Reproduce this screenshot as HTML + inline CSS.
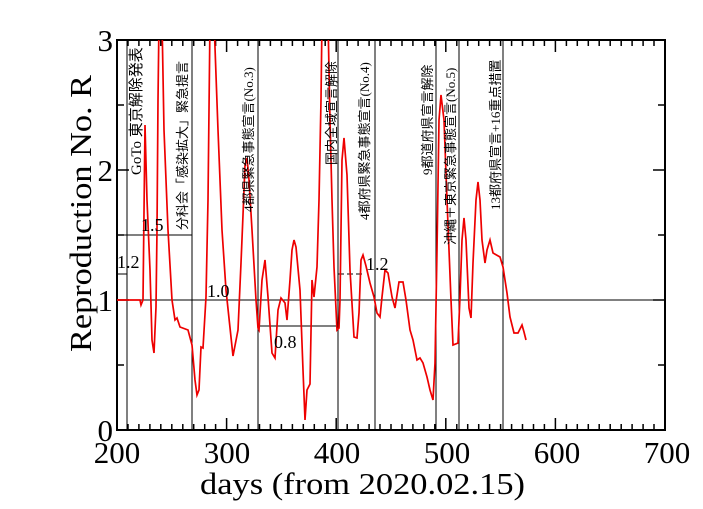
<!DOCTYPE html>
<html><head><meta charset="utf-8"><style>
html,body{margin:0;padding:0;background:#fff;}
svg{display:block;}
.t{font-family:"Liberation Serif","Noto Serif CJK SC",serif;}
.j{font-family:"Liberation Serif","Noto Sans CJK JP",sans-serif;font-size:13px;}
</style></head><body>
<svg width="703" height="509" viewBox="0 0 703 509" xmlns="http://www.w3.org/2000/svg">
<rect width="703" height="509" fill="#fff"/>
<defs><clipPath id="c"><rect x="117" y="40" width="548" height="390"/></clipPath></defs>
<g stroke="#000" stroke-width="1" fill="none">
<line x1="117" y1="300" x2="665" y2="300"/>
<line x1="117" y1="235" x2="192" y2="235"/>
<line x1="117" y1="274" x2="127" y2="274"/>
<line x1="258" y1="326" x2="338" y2="326"/>
<line x1="338" y1="274" x2="363" y2="274" stroke-dasharray="6,3"/>
<line x1="127" y1="40" x2="127" y2="430"/>
<line x1="192" y1="40" x2="192" y2="430"/>
<line x1="258" y1="40" x2="258" y2="430"/>
<line x1="338" y1="40" x2="338" y2="430"/>
<line x1="375" y1="40" x2="375" y2="430"/>
<line x1="436" y1="40" x2="436" y2="430"/>
<line x1="459" y1="40" x2="459" y2="430"/>
<line x1="503" y1="40" x2="503" y2="430"/>
</g>
<path stroke="#000" stroke-width="1.5" fill="none" d="
M128 430v-6M128 40v6M138.9 430v-6M138.9 40v6M149.9 430v-6M149.9 40v6M160.8 430v-6M160.8 40v6M171.8 430v-6M171.8 40v6M182.8 430v-6M182.8 40v6M193.7 430v-6M193.7 40v6M204.7 430v-6M204.7 40v6M215.6 430v-6M215.6 40v6
M226.6 430v-12M226.6 40v12
M237.6 430v-6M237.6 40v6M248.5 430v-6M248.5 40v6M259.5 430v-6M259.5 40v6M270.4 430v-6M270.4 40v6M281.4 430v-6M281.4 40v6M292.4 430v-6M292.4 40v6M303.3 430v-6M303.3 40v6M314.3 430v-6M314.3 40v6M325.2 430v-6M325.2 40v6
M336.2 430v-12M336.2 40v12
M347.2 430v-6M347.2 40v6M358.1 430v-6M358.1 40v6M369.1 430v-6M369.1 40v6M380 430v-6M380 40v6M391 430v-6M391 40v6M402 430v-6M402 40v6M412.9 430v-6M412.9 40v6M423.9 430v-6M423.9 40v6M434.8 430v-6M434.8 40v6
M445.8 430v-12M445.8 40v12
M456.8 430v-6M456.8 40v6M467.7 430v-6M467.7 40v6M478.7 430v-6M478.7 40v6M489.6 430v-6M489.6 40v6M500.6 430v-6M500.6 40v6M511.6 430v-6M511.6 40v6M522.5 430v-6M522.5 40v6M533.5 430v-6M533.5 40v6M544.4 430v-6M544.4 40v6
M555.4 430v-12M555.4 40v12
M566.4 430v-6M566.4 40v6M577.3 430v-6M577.3 40v6M588.3 430v-6M588.3 40v6M599.2 430v-6M599.2 40v6M610.2 430v-6M610.2 40v6M621.2 430v-6M621.2 40v6M632.1 430v-6M632.1 40v6M643.1 430v-6M643.1 40v6M654 430v-6M654 40v6
M117 365h7M665 365h-7M117 300h12M665 300h-12M117 235h7M665 235h-7M117 170h12M665 170h-12M117 105h7M665 105h-7"/>
<rect x="117" y="40" width="548" height="390" fill="none" stroke="#000" stroke-width="2"/>
<polyline clip-path="url(#c)" fill="none" stroke="#e00" stroke-width="1.7" points="117,300 140,300 141,305 143,300 145,125 147,200 150,270 152,340 154,353 156,307 157,230 158,100 159,20 162,20 164,130 168,230 172,300 175,320 177,318 180,327 188,330 192,345 195,380 197,395 199,390 201,347 203,348 206,297 208,200 210,20 214,20 218,130 222,230 226,290 233,356 238,330 241,263 243,215 245,165 247,158 249,180 252,230 256,300 258,328 259,330 262,280 265,260 268,297 272,353 275,358 278,310 281,298 285,303 287,320 290,280 292,250 294,240 296,247 300,290 303,370 305,420 307,390 310,384 312,280 314,297 317,267 319,200 321,100 322,20 328,20 330,120 332,200 334,267 337,330 339,328 340,300 342,160 344,138 347,175 350,270 354,337 357,338 359,313 361,260 363,255 366,266 370,283 374,297 377,313 380,317 382,297 385,270 388,273 392,297 395,308 399,282 403,282 406,300 410,330 413,340 417,360 420,358 423,363 427,377 430,390 433,400 435,363 437,250 439,120 441,95 444,120 447,200 451,300 453,345 458,343 460,297 462,240 464,218 466,240 469,308 471,318 473,263 476,200 478,182 480,200 482,240 485,263 487,250 490,240 493,253 500,257 503,267 507,293 510,317 514,333 518,333 522,325 524,332 526,340"/>
<g class="t" font-size="18" fill="#000">
<text x="141" y="231">1.5</text>
<text x="117" y="268">1.2</text>
<text x="207" y="297">1.0</text>
<text x="274" y="348">0.8</text>
<text x="366" y="270">1.2</text>
</g>
<g class="j" fill="#000">
<text transform="translate(141,175) rotate(-90)" font-size="15">GoTo 東京解除発表</text>
<text transform="translate(187,230) rotate(-90)">分科会「感染拡大」緊急提言</text>
<text transform="translate(253,212) rotate(-90)">4都県緊急事態宣言(No.3)</text>
<text transform="translate(336,165) rotate(-90)">国内全域宣言解除</text>
<text transform="translate(369,220) rotate(-90)">4都府県緊急事態宣言(No.4)</text>
<text transform="translate(432,175) rotate(-90)">9都道府県宣言解除</text>
<text transform="translate(455,245) rotate(-90)">沖縄＋東京緊急事態宣言(No.5)</text>
<text transform="translate(500,210) rotate(-90)">13都府県宣言+16重点措置</text>
</g>
<g class="t" font-size="31" fill="#000" text-anchor="middle">
<text x="117" y="463">200</text><text x="227" y="463">300</text><text x="337" y="463">400</text>
<text x="447" y="463">500</text><text x="557" y="463">600</text><text x="667" y="463">700</text>
</g>
<g class="t" font-size="31" fill="#000">
<text x="200" y="494" textLength="325" lengthAdjust="spacingAndGlyphs">days   (from 2020.02.15)</text>
<text transform="translate(91,352) rotate(-90)" textLength="277" lengthAdjust="spacingAndGlyphs">Reproduction No.  R</text>
</g>
<g class="t" font-size="31" fill="#000" text-anchor="end">
<text x="113" y="441">0</text><text x="113" y="311">1</text><text x="113" y="181">2</text><text x="113" y="51">3</text>
</g>
</svg>
</body></html>
